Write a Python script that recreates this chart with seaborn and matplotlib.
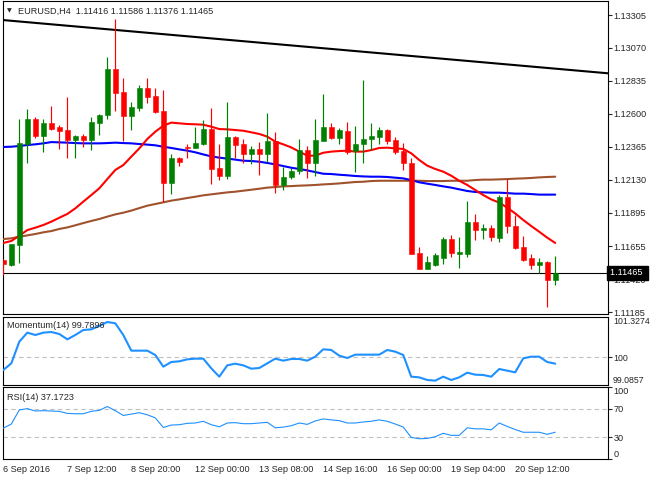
import numpy as np
import pandas as pd
import matplotlib
matplotlib.use("Agg")
import matplotlib.pyplot as plt
import matplotlib.transforms as mtransforms
import seaborn as sns

title_text = "EURUSD,H4  1.11416 1.11586 1.11376 1.11465"
last_price = 1.11465

opens = [1.11556, 1.11521, 1.11663, 1.12384, 1.12563, 1.12444, 1.12534, 1.12506, 1.12484, 1.12413,
         1.12441, 1.12413, 1.12537, 1.12591, 1.12920, 1.12755, 1.12586, 1.12644, 1.12784, 1.12727,
         1.12620, 1.12108, 1.12282, 1.12360, 1.12358, 1.12387, 1.12491, 1.12213, 1.12158, 1.12434,
         1.12384, 1.12315, 1.12349, 1.12315, 1.12406, 1.12094, 1.12149, 1.12192, 1.12341, 1.12251,
         1.12406, 1.12506, 1.12427, 1.12477, 1.12337, 1.12384, 1.12420, 1.12434, 1.12484, 1.12413,
         1.12334, 1.12251, 1.11609, 1.11494, 1.11523, 1.11573, 1.11709, 1.11601, 1.11601, 1.11828,
         1.11773, 1.11787, 1.11716, 1.12006, 1.11801, 1.11651, 1.11573, 1.11523, 1.11544, 1.11416]
highs = [1.11566, 1.11673, 1.12563, 1.12634, 1.12577, 1.12563, 1.12658, 1.12520, 1.12720, 1.12448,
         1.12456, 1.12577, 1.12601, 1.13005, 1.13276, 1.12855, 1.12682, 1.12805, 1.12855, 1.12784,
         1.12770, 1.12311, 1.12291, 1.12384, 1.12506, 1.12556, 1.12641, 1.12384, 1.12684, 1.12441,
         1.12420, 1.12370, 1.12398, 1.12606, 1.12470, 1.12220, 1.12215, 1.12420, 1.12370, 1.12563,
         1.12741, 1.12534, 1.12498, 1.12541, 1.12513, 1.12841, 1.12534, 1.12506, 1.12491, 1.12434,
         1.12391, 1.12287, 1.11651, 1.11585, 1.11609, 1.11723, 1.11737, 1.11723, 1.11980, 1.11885,
         1.11813, 1.11809, 1.12020, 1.12134, 1.11880, 1.11730, 1.11601, 1.11573, 1.11552, 1.11586]
lows = [1.11449, 1.11516, 1.11535, 1.12251, 1.12429, 1.12330, 1.12482, 1.12349, 1.12287, 1.12287,
        1.12365, 1.12344, 1.12448, 1.12563, 1.12620, 1.12406, 1.12484, 1.12620, 1.12677, 1.12606,
        1.11973, 1.12030, 1.12230, 1.12287, 1.12353, 1.12377, 1.12101, 1.12130, 1.12137, 1.12287,
        1.12251, 1.12244, 1.12165, 1.12258, 1.12037, 1.12058, 1.12137, 1.12172, 1.12144, 1.12158,
        1.12406, 1.12420, 1.12387, 1.12315, 1.12187, 1.12251, 1.12341, 1.12384, 1.12384, 1.12315,
        1.12201, 1.11596, 1.11490, 1.11490, 1.11516, 1.11530, 1.11580, 1.11502, 1.11580, 1.11701,
        1.11709, 1.11694, 1.11687, 1.11751, 1.11637, 1.11552, 1.11494, 1.11466, 1.11223, 1.11376]
closes = [1.11530, 1.11673, 1.12391, 1.12563, 1.12444, 1.12534, 1.12491, 1.12477, 1.12413, 1.12441,
          1.12413, 1.12541, 1.12591, 1.12920, 1.12751, 1.12586, 1.12648, 1.12784, 1.12722, 1.12613,
          1.12108, 1.12284, 1.12258, 1.12356, 1.12391, 1.12491, 1.12208, 1.12158, 1.12434, 1.12377,
          1.12315, 1.12349, 1.12315, 1.12406, 1.12094, 1.12149, 1.12192, 1.12341, 1.12251, 1.12413,
          1.12506, 1.12427, 1.12484, 1.12330, 1.12384, 1.12420, 1.12441, 1.12484, 1.12406, 1.12327,
          1.12251, 1.11601, 1.11494, 1.11542, 1.11594, 1.11709, 1.11609, 1.11616, 1.11828, 1.11773,
          1.11787, 1.11723, 1.12006, 1.11801, 1.11644, 1.11559, 1.11523, 1.11544, 1.11414, 1.11465]

ma_red = [1.11678, 1.11692, 1.11730, 1.11770, 1.11787, 1.11806, 1.11830, 1.11858, 1.11885, 1.11925,
          1.11973, 1.12020, 1.12068, 1.12134, 1.12199, 1.12234, 1.12294, 1.12353, 1.12420, 1.12472,
          1.12515, 1.12537, 1.12532, 1.12527, 1.12525, 1.12522, 1.12508, 1.12491, 1.12489, 1.12484,
          1.12479, 1.12468, 1.12456, 1.12437, 1.12401, 1.12382, 1.12360, 1.12330, 1.12301, 1.12301,
          1.12322, 1.12330, 1.12334, 1.12337, 1.12330, 1.12330, 1.12341, 1.12356, 1.12358, 1.12353,
          1.12349, 1.12318, 1.12270, 1.12230, 1.12206, 1.12187, 1.12158, 1.12122, 1.12092, 1.12056,
          1.12020, 1.11989, 1.11966, 1.11930, 1.11889, 1.11842, 1.11799, 1.11758, 1.11716, 1.11678]
ma_blue = [1.12363, 1.12365, 1.12370, 1.12377, 1.12382, 1.12389, 1.12398, 1.12396, 1.12394, 1.12391,
           1.12389, 1.12389, 1.12389, 1.12391, 1.12394, 1.12391, 1.12389, 1.12384, 1.12380, 1.12375,
           1.12365, 1.12356, 1.12346, 1.12337, 1.12325, 1.12310, 1.12296, 1.12287, 1.12280, 1.12273,
           1.12265, 1.12263, 1.12258, 1.12249, 1.12239, 1.12227, 1.12215, 1.12206, 1.12196, 1.12184,
           1.12172, 1.12170, 1.12165, 1.12161, 1.12156, 1.12153, 1.12151, 1.12151, 1.12149, 1.12144,
           1.12139, 1.12127, 1.12111, 1.12101, 1.12092, 1.12082, 1.12073, 1.12061, 1.12049, 1.12042,
           1.12039, 1.12037, 1.12037, 1.12034, 1.12030, 1.12030, 1.12027, 1.12023, 1.12023, 1.12023]
ma_brown = [1.11706, 1.11711, 1.11723, 1.11732, 1.11742, 1.11754, 1.11763, 1.11778, 1.11789, 1.11804,
            1.11820, 1.11835, 1.11849, 1.11866, 1.11882, 1.11894, 1.11909, 1.11927, 1.11944, 1.11956,
            1.11968, 1.11980, 1.11989, 1.11999, 1.12008, 1.12018, 1.12025, 1.12032, 1.12039, 1.12044,
            1.12051, 1.12058, 1.12065, 1.12073, 1.12077, 1.12082, 1.12084, 1.12087, 1.12089, 1.12092,
            1.12096, 1.12099, 1.12103, 1.12108, 1.12113, 1.12115, 1.12120, 1.12122, 1.12122, 1.12122,
            1.12122, 1.12122, 1.12122, 1.12120, 1.12120, 1.12120, 1.12122, 1.12122, 1.12122, 1.12127,
            1.12130, 1.12130, 1.12132, 1.12134, 1.12137, 1.12139, 1.12142, 1.12146, 1.12149, 1.12151]

momentum = [99.580, 99.800, 100.514, 100.811, 100.734, 100.811, 100.833, 100.767, 100.591, 100.734,
            100.899, 100.921, 101.031, 101.163, 101.119, 100.734, 100.218, 100.218, 100.218, 100.075,
            99.690, 99.844, 99.866, 99.932, 99.954, 99.954, 99.635, 99.360, 99.734, 99.789,
            99.734, 99.624, 99.646, 99.800, 99.954, 99.888, 99.943, 99.943, 99.888, 100.020,
            100.262, 100.240, 100.053, 99.976, 100.086, 100.086, 100.086, 100.086, 100.240, 100.185,
            100.075, 99.360, 99.338, 99.251, 99.229, 99.360, 99.251, 99.338, 99.492, 99.426,
            99.415, 99.360, 99.613, 99.558, 99.503, 99.965, 100.020, 100.020, 99.844, 99.7896]
rsi = [42.86, 48.57, 68.10, 70.00, 66.67, 67.14, 66.67, 66.19, 63.33, 62.86,
       62.86, 66.19, 67.62, 72.86, 67.14, 60.48, 62.38, 64.29, 61.43, 57.14,
       43.81, 47.14, 47.62, 49.52, 50.00, 52.38, 47.62, 44.76, 50.00, 50.48,
       49.05, 49.05, 50.00, 50.95, 43.33, 44.29, 46.19, 50.00, 48.10, 52.86,
       55.71, 54.29, 53.33, 50.00, 50.00, 51.43, 52.38, 54.29, 52.38, 48.57,
       44.29, 30.00, 28.10, 28.57, 30.95, 35.71, 32.86, 32.86, 43.33, 41.90,
       41.90, 40.48, 50.00, 45.24, 40.95, 37.14, 37.14, 37.14, 34.29, 37.1723]

# trendline anchors (price at left and right edge of the window)
trend_prices = [1.13269, 1.12889]

price_ticks = [1.11185, 1.11420, 1.11655, 1.11895, 1.12130, 1.12365, 1.12600, 1.12835, 1.13070, 1.13305]
mom_ticks = [99.0857, 100, 101.3274]
rsi_ticks = [0, 30, 70, 100]
date_ticks = [0, 8, 16, 24, 32, 40, 48, 56, 64]
date_labels = ["6 Sep 2016", "7 Sep 12:00", "8 Sep 20:00", "12 Sep 00:00", "13 Sep 08:00",
               "14 Sep 16:00", "16 Sep 00:00", "19 Sep 04:00", "20 Sep 12:00"]

sns.set_style("white")
plt.rcParams["font.family"] = ["Liberation Sans", "DejaVu Sans"]
FS = 6.6

W, H = 650, 480
fig = plt.figure(figsize=(6.5, 4.8), dpi=100)
fig.patch.set_facecolor("white")


def px_axes(x0, y0, x1, y1):
    return fig.add_axes([x0 / W, 1 - y1 / H, (x1 - x0) / W, (y1 - y0) / H])


ax = px_axes(3, 1, 608, 314)
axm = px_axes(3, 317, 608, 385)
axr = px_axes(3, 387, 608, 459)

XLIM = (-0.04, 75.6)
df = pd.DataFrame({"bar": np.arange(len(closes)), "open": opens, "high": highs,
                   "low": lows, "close": closes})
colors = np.where(df["close"] >= df["open"], "#008000", "#ff0000")

# candles
ax.vlines(df["bar"], df["low"], df["high"], colors=colors, linewidth=0.85, zorder=5)
body_lo = np.minimum(df["open"], df["close"])
body_h = np.maximum(np.abs(df["close"] - df["open"]), 0.00001)
ax.bar(df["bar"], body_h, bottom=body_lo, width=0.6, color=colors, edgecolor=colors,
       linewidth=0.4, zorder=6)

# moving averages
sns.lineplot(x=df["bar"], y=ma_brown, ax=ax, color="#a0522d", linewidth=1.5, zorder=3)
sns.lineplot(x=df["bar"], y=ma_blue, ax=ax, color="#0000ff", linewidth=1.5, zorder=3)
sns.lineplot(x=df["bar"], y=ma_red, ax=ax, color="#ff0000", linewidth=1.5, zorder=3)
ax.plot(XLIM, trend_prices, color="black", linewidth=1.5, zorder=3)
ax.axhline(last_price, color="black", linewidth=0.8, zorder=2)

ax.set_xlim(*XLIM)
ax.set_ylim(1.11171, 1.13405)
ax.set_yticks(price_ticks)
ax.set_yticklabels([f"{p:.5f}" for p in price_ticks])

# momentum
sns.lineplot(x=df["bar"], y=momentum, ax=axm, color="#1e90ff", linewidth=1.5, zorder=3)
axm.axhline(100, color="#c0c0c0", linestyle=(0, (4, 3)), linewidth=0.8, zorder=1)
axm.set_xlim(*XLIM)
axm.set_ylim(99.0857, 101.3274)
axm.set_yticks(mom_ticks)
axm.set_yticklabels(["99.0857", "100", "101.3274"])

# rsi
sns.lineplot(x=df["bar"], y=rsi, ax=axr, color="#1e90ff", linewidth=0.8, zorder=3)
for lvl in (30, 70):
    axr.axhline(lvl, color="#c0c0c0", linestyle=(0, (4, 3)), linewidth=0.8, zorder=1)
axr.set_xlim(*XLIM)
axr.set_ylim(0, 100)
axr.set_yticks(rsi_ticks)
axr.set_yticklabels([str(t) for t in rsi_ticks])

axr.set_xticks(date_ticks)
axr.set_xticklabels(date_labels, ha="left")
axr.tick_params(axis="x", direction="out", length=3, width=0.8, pad=1.5, labelsize=FS)

for a in (ax, axm, axr):
    a.set_xlabel("")
    a.set_ylabel("")
    a.yaxis.tick_right()
    a.tick_params(axis="y", direction="out", length=3, width=0.8, pad=1.2, labelsize=FS)
    for s in a.spines.values():
        s.set_color("black")
        s.set_linewidth(0.8)
    if a is not axr:
        a.set_xticks([])

axm.tick_params(axis="y", pad=0.6, labelsize=6.3)

# edge labels of the sub windows sit inside the window
mt = axm.yaxis.get_major_ticks()
mt[0].label2.set_va("bottom")
mt[2].label2.set_va("top")
mt[0].tick2line.set_visible(False)
mt[2].tick2line.set_visible(False)
rt = axr.yaxis.get_major_ticks()
rt[0].label2.set_va("bottom")
rt[3].label2.set_va("top")

# last price tag on the right scale
trans = mtransforms.blended_transform_factory(ax.transAxes, ax.transData)
ax.text(1.003, last_price, f"{last_price:.5f} ", transform=trans, ha="left", va="center",
        color="white", fontsize=FS, zorder=10, clip_on=False,
        bbox=dict(boxstyle="square,pad=0.3", fc="black", ec="black"))

# window captions
fig.text(7 / W, 1 - 11 / H, "\u25bc", fontsize=4.5, family=["DejaVu Sans"], va="center", ha="left")
fig.text(18 / W, 1 - 11 / H, title_text, fontsize=FS, va="center", ha="left")
fig.text(7 / W, 1 - 326 / H, "Momentum(14) 99.7896", fontsize=FS, va="center", ha="left")
fig.text(7 / W, 1 - 397 / H, "RSI(14) 37.1723", fontsize=FS, va="center", ha="left")

fig.savefig("out.png", dpi=100)
